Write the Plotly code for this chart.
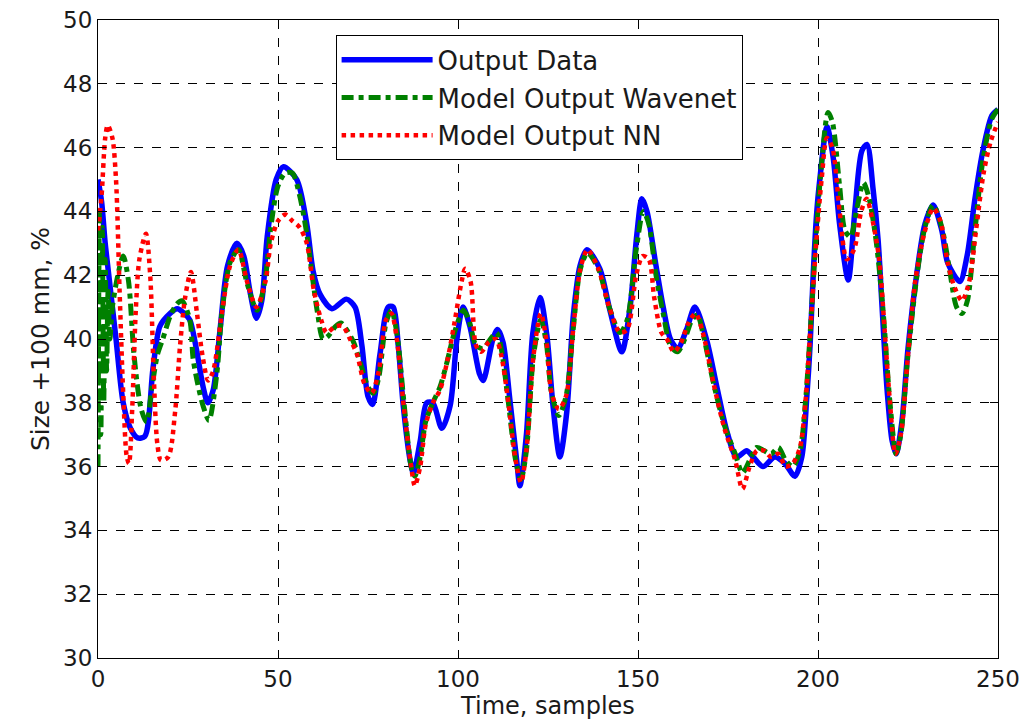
import plotly.graph_objects as go

# ---- Output Data (blue) ----
t_data = [0, 1, 2, 3, 5, 7, 9, 11, 13, 15.3, 17.2, 20, 22, 24, 25.5, 27.3, 29.2, 30.5, 32, 34, 36, 38.6,
          40.5, 42.2, 44, 45.5, 47, 49.5, 51.5, 55.2, 58, 59.8, 61.7, 65, 69, 71.4, 73.3, 75, 76.3, 78.3,
          80.6, 82, 83.4, 84.8, 86.7, 87.6, 89.5, 91.3, 93, 95.5, 97.8, 99.7, 101.4, 103.3, 106, 107,
          109.7, 111, 112.5, 114.4, 116.3, 117.2, 119, 120.8, 122.8, 124.7, 126.4, 128.3, 130.2, 132,
          133.9, 135.8, 139.4, 142.2, 145.5, 147.8, 149.7, 151.1, 152.5, 155, 157, 159, 161, 163.5, 165.8,
          169, 171.9, 174.7, 177.4, 180.2, 182, 184.7, 188, 190.8, 193.6, 195.5, 196.9, 197.8, 198.7,
          199.6, 200.5, 202.5, 204.2, 206, 208.4, 210.3, 212.2, 213.6, 215.3, 216.7, 217.8, 219.2, 220.6,
          221.7, 223.3, 225, 227.5, 229.7, 232, 234.4, 236, 239.4, 241.4, 243.6, 245.8, 248.3, 250]
v_data = [45.0, 44.3, 43.0, 42.0, 40.0, 38.0, 37.2, 36.9, 36.95, 39.1, 40.4, 40.8, 40.95, 40.8, 40.6, 39.7, 38.5, 38.0, 38.4, 40.4, 42.3, 43.0,
          42.6, 41.5, 40.65, 41.2, 43.2, 45.0, 45.4, 45.0, 43.6, 42.1, 41.4, 40.95, 41.25, 41.0, 39.8, 38.2, 37.95, 39.5,
          41.0, 41.0, 39.8, 37.9, 36.2, 35.8, 36.8, 38.0, 38.0, 37.2, 37.9, 40.0, 41.0, 40.4, 38.9, 38.7,
          40.0, 40.3, 39.9, 38.1, 36.2, 35.4, 37.0, 40.2, 41.3, 40.1, 37.9, 36.3, 37.7, 40.7,
          42.3, 42.8, 42.2, 40.9, 39.6, 41.0, 43.3, 44.4, 44.0, 42.3, 41.0, 40.0, 39.7, 40.3, 41.0,
          40.0, 38.5, 37.1, 36.3, 36.5, 36.3, 36.0, 36.3, 36.1, 35.7, 36.3, 38.2, 39.8, 42.1,
          43.9, 45.0, 46.65, 45.7, 43.6, 41.85, 44.1, 45.9, 46.1, 44.7, 43.1, 41.0, 38.4, 36.8,
          36.4, 37.4, 39.7, 42.1, 43.6, 44.2, 43.4, 42.4, 41.8, 42.6, 44.4, 45.9, 47.0, 47.2]

# ---- Model Output Wavenet (green) ----
t_wav = [0, 0.4, 0.8, 1.2, 1.6, 2.0, 2.4, 2.8, 3.3, 4, 5.5, 7, 8.5, 10, 12, 13.5, 15, 16.5, 18, 20, 21.9, 23.3,
         25.5, 26.4, 27.5, 29.2, 30.8, 33, 34.4, 36.7, 39, 41.4, 44.2, 46.4, 48, 50, 52, 54, 56, 58, 59.5,
         61, 62.5, 64, 66, 67.5, 69, 71, 73, 75, 76.5, 78, 80, 81.5, 83, 85, 87, 88, 89.5, 91, 93, 95, 97,
         99, 101.5, 103, 105, 107, 109, 110.7, 112, 114, 116, 117.5, 119, 121, 123, 124.5, 126, 128, 130,
         132, 134, 136, 139, 142, 145, 147, 149.5, 151.5, 153, 155, 157, 159, 161, 163, 165, 166.5, 168,
         171, 174, 177, 179, 181, 183, 185, 187, 189, 191, 193, 195, 196.5, 198, 199.5, 201, 202.8, 204,
         206, 207.5, 209, 211, 212.6, 214, 216, 218, 220, 221.7, 223, 225, 227.5, 229.7, 232, 234.4,
         236.5, 238.5, 240, 241.5, 243.5, 245.8, 248.3, 250]
v_wav = [36.0, 44.0, 37.0, 43.5, 38.0, 42.5, 39.0, 41.5, 40.0, 41.0, 42.0, 42.6, 41.8, 39.5, 37.8, 37.4, 38.5, 39.5, 40.0, 40.7, 41.1, 41.2,
         40.6, 39.4, 38.7, 37.9, 37.45, 38.9, 40.8, 42.4, 42.8, 41.75, 40.9, 41.85, 43.5, 44.8, 45.2, 45.2, 44.5, 43.3, 42.0,
         40.8, 40.0, 40.1, 40.4, 40.5, 40.3, 39.9, 39.2, 38.5, 38.3, 38.8, 40.5, 40.9, 40.2, 38.0, 36.0, 35.7, 36.3, 37.4, 38.0, 38.5, 39.3,
         40.2, 40.9, 40.6, 39.8, 39.7, 40.0, 40.2, 39.7, 38.0, 36.2, 35.6, 36.5, 39.5, 40.6, 39.9, 38.3, 37.6, 38.2,
         40.3, 42.2, 42.7, 42.2, 41.0, 40.2, 40.6, 42.8, 44.0, 43.6, 42.0, 40.8, 39.8, 39.6, 40.0, 40.6, 40.75, 40.2,
         38.6, 37.3, 36.4, 35.8, 36.2, 36.6, 36.5, 36.4, 36.6, 36.2, 36.0, 36.5, 38.0, 40.5, 43.3, 45.5, 47.1, 46.8,
         44.8, 43.4, 43.2, 44.2, 44.9, 44.5, 43.2, 41.0, 38.0, 36.4, 37.0, 39.5, 42.0, 43.5, 44.2, 43.5,
         42.2, 41.0, 40.8, 41.2, 43.3, 45.6, 46.9, 47.2]

# ---- Model Output NN (red) ----
t_nn = [0, 1, 2, 2.7, 4, 5, 6, 7, 8, 8.6, 9.5, 10.5, 11.5, 13.3, 14.5, 15.5, 16.5, 17.5, 19.5, 21.4, 22.8, 24.2,
        25.8, 27.5, 29, 30.6, 32, 34.4, 36.7, 39, 41.4, 44, 46.5, 48, 50, 52, 54, 56, 58, 60, 62, 63.5, 66,
        68, 70, 72, 74, 76, 78, 80, 81.5, 83, 85, 87, 88, 89.5, 91, 93, 95, 97, 99, 101, 102, 103.5, 105,
        106.5, 108.5, 110.5, 112, 114, 116, 117.5, 119, 121, 123, 124.5, 126, 128, 130, 132, 134, 136, 139,
        142, 145, 147, 149.5, 151.3, 153, 154.5, 156.5, 158, 160, 162, 164, 166, 168, 171, 174, 177, 179,
        181, 183, 185, 187, 189, 191, 193, 195, 196.5, 198, 199.5, 201, 202.5, 204, 206, 208, 210, 212,
        213.5, 215, 217, 218.5, 220, 221.5, 223, 225, 227, 229.5, 232, 234, 236, 238, 240, 242, 244, 246,
        248, 250]
v_nn = [43.4, 44.5, 46.3, 46.7, 46.3, 45.0, 41.5, 38.3, 36.3, 36.1, 37.8, 40.9, 42.5, 43.3, 42.0, 38.8, 36.7, 36.2, 36.3, 37.7, 39.8, 41.3,
        42.1, 40.8, 39.5, 38.7, 39.0, 40.8, 42.3, 42.8, 41.8, 41.0, 41.8, 43.0, 43.7, 43.9, 43.7, 43.5, 43.0, 41.5, 40.6, 40.2, 40.4,
        40.4, 40.0, 39.5, 38.6, 38.3, 39.0, 40.6, 40.8, 40.0, 37.8, 36.0, 35.4, 36.0, 37.3, 38.0, 38.4, 39.3, 40.5, 41.8, 42.2, 41.8, 39.8,
        39.6, 39.9, 40.0, 39.5, 38.0, 36.2, 35.5, 36.5, 39.5, 40.8, 40.0, 38.3, 37.8, 38.2, 40.3, 42.2, 42.8, 42.2,
        41.0, 40.2, 40.3, 42.0, 42.6, 42.5, 41.3, 40.2, 40.0, 39.6, 39.9, 40.5, 40.8, 40.2, 38.6, 37.2, 36.2, 35.3,
        36.0, 36.5, 36.5, 36.3, 36.4, 36.0, 36.1, 36.6, 38.0, 40.5, 43.0, 45.0, 46.3, 46.0, 44.0, 42.5, 42.8, 44.0,
        44.4, 43.8, 42.5, 40.3, 38.0, 36.4, 37.0, 39.5, 41.8, 43.3, 44.1, 43.7, 42.4, 41.6, 41.2, 41.8, 43.5, 45.2,
        46.2, 46.8]

x_ticks = [0, 50, 100, 150, 200, 250]
y_ticks = [30, 32, 34, 36, 38, 40, 42, 44, 46, 48, 50]

FONT = "DejaVu Sans, Liberation Sans, sans-serif"
TXT = "#1a1a1a"

fig = go.Figure()
fig.add_trace(go.Scatter(x=t_data, y=v_data, mode="lines", name="Output Data",
                         legendgroup="a",
                         line=dict(color="#0000ff", width=5.5, shape="spline", smoothing=0.8)))
fig.add_trace(go.Scatter(x=t_wav, y=v_wav, mode="lines", name="Model Output Wavenet",
                         legendgroup="b",
                         line=dict(color="#008000", width=5, shape="spline", smoothing=0.8,
                                   dash="12px,5px,5px,5px")))
fig.add_trace(go.Scatter(x=t_nn, y=v_nn, mode="lines", name="Model Output NN",
                         legendgroup="c",
                         line=dict(color="#ff0000", width=4.5, shape="spline", smoothing=0.8,
                                   dash="dot")))

axis_common = dict(
    showline=True, linecolor="black", linewidth=1, mirror="ticks",
    ticks="inside", ticklen=8, tickcolor="black", tickwidth=1,
    showgrid=True, gridcolor="black", gridwidth=1, griddash="dash",
    zeroline=False, automargin=False,
    tickfont=dict(family=FONT, size=23, color=TXT),
)

fig.update_xaxes(range=[0, 250], tickvals=x_ticks, ticktext=[str(v) for v in x_ticks],
                 title=dict(text="Time, samples", font=dict(family=FONT, size=24, color=TXT),
                            standoff=2),
                 **axis_common)
fig.update_yaxes(range=[30, 50], tickvals=y_ticks, ticktext=[str(v) for v in y_ticks],
                 title=dict(text="Size +100 mm, %", font=dict(family=FONT, size=25, color=TXT),
                            standoff=6),
                 **axis_common)

fig.update_layout(
    width=1028, height=726,
    margin=dict(l=98, r=30, t=20, b=68, autoexpand=False),
    paper_bgcolor="white", plot_bgcolor="white",
    font=dict(family=FONT, size=23, color=TXT),
    showlegend=True,
    legend=dict(x=0.264, y=0.976, xanchor="left", yanchor="top",
                bgcolor="white", bordercolor="black", borderwidth=1,
                font=dict(family=FONT, size=26, color=TXT),
                tracegroupgap=1, itemwidth=91),
)

fig.write_html("out.html")
